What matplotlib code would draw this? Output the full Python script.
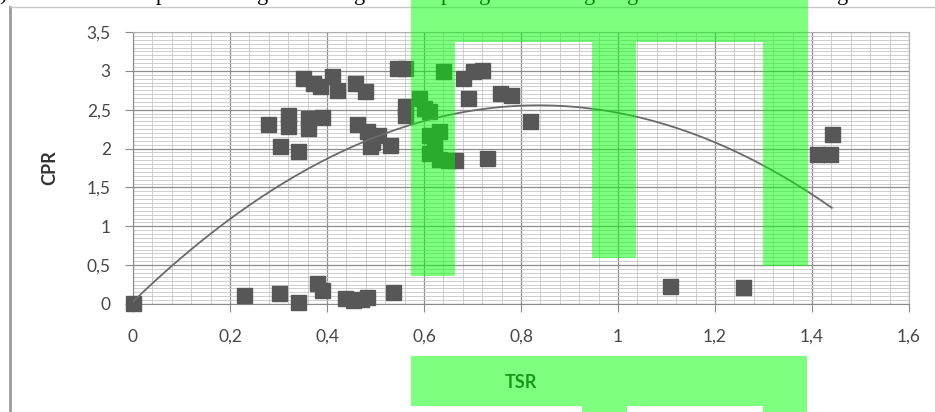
import numpy as np
import matplotlib
matplotlib.use("Agg")
import matplotlib.pyplot as plt
import matplotlib.transforms as mtransforms
from matplotlib.patches import Polygon
from matplotlib.lines import Line2D
from matplotlib.ticker import MultipleLocator, FixedLocator, FixedFormatter

# measured points: tip speed ratio vs power coefficient
tsr = [0.0, 0.229, 0.30, 0.34, 0.38, 0.39, 0.437, 0.454, 0.47, 0.482, 0.536,
       0.279, 0.303, 0.32, 0.32, 0.34, 0.361, 0.361, 0.39,
       0.351, 0.371, 0.386, 0.41, 0.42, 0.458, 0.478,
       0.462, 0.482, 0.492, 0.489, 0.505, 0.53,
       0.544, 0.561, 0.561, 0.561,
       0.64, 0.68, 0.70, 0.72, 0.69, 0.757, 0.78, 0.819, 0.73, 0.664,
       0.59, 0.61, 0.60, 0.61, 0.63, 0.62, 0.61, 0.63, 0.65,
       1.107, 1.258, 1.441, 1.41, 1.437]
cpr = [0.01, 0.12, 0.14, 0.03, 0.27, 0.18, 0.08, 0.05, 0.07, 0.09, 0.16,
       2.31, 2.03, 2.43, 2.29, 1.97, 2.39, 2.26, 2.40,
       2.91, 2.84, 2.80, 2.93, 2.75, 2.84, 2.74,
       2.32, 2.22, 2.09, 2.03, 2.17, 2.04,
       3.04, 3.04, 2.55, 2.43,
       3.00, 2.91, 3.00, 3.01, 2.65, 2.71, 2.69, 2.35, 1.88, 1.85,
       2.65, 2.48, 2.52, 2.17, 2.22, 2.04, 1.94, 1.87, 1.85,
       0.23, 0.22, 2.19, 1.93, 1.93]

# polynomial trendline (order 2): a*x^2 + b*x + c
trend_coef = [-3.61, 6.04, 0.03]

x_ticks = [0, 0.2, 0.4, 0.6, 0.8, 1.0, 1.2, 1.4, 1.6]
x_tick_labels = ["0", "0,2", "0,4", "0,6", "0,8", "1", "1,2", "1,4", "1,6"]
y_ticks = [0, 0.5, 1.0, 1.5, 2.0, 2.5, 3.0, 3.5]
y_tick_labels = ["0", "0,5", "1", "1,5", "2", "2,5", "3", "3,5"]

# bottoms of the text line above the chart
line_chars = [")", "p", "g", "g", "p", "g", "g", "g", "g"]
line_char_x = [3, 161, 263, 360, 446, 485, 590, 633, 843]

W, H = 935, 412
fig = plt.figure(figsize=(W / 100, H / 100), dpi=100)
fig.patch.set_facecolor("white")

# pixel coordinates (origin top-left) -> figure
px = mtransforms.Affine2D().scale(1 / W, -1 / H).translate(0, 1) + fig.transFigure

ax = fig.add_axes([133 / W, (H - 304) / H, 776 / W, 272 / H])
ax.set_xlim(0, 1.6)
ax.set_ylim(0, 3.5)

ax.xaxis.set_major_locator(FixedLocator(x_ticks))
ax.xaxis.set_major_formatter(FixedFormatter(x_tick_labels))
ax.yaxis.set_major_locator(FixedLocator(y_ticks))
ax.yaxis.set_major_formatter(FixedFormatter(y_tick_labels))
ax.xaxis.set_minor_locator(MultipleLocator(0.04))
ax.yaxis.set_minor_locator(MultipleLocator(0.05))

ax.grid(which="major", color="#8e8e8e", linewidth=0.9)
ax.grid(which="minor", color="#c6c6c6", linewidth=0.6)
ax.set_axisbelow(True)

for s in ax.spines.values():
    s.set_color("#b0b0b0")
    s.set_linewidth(0.8)
ax.spines["left"].set_color("#8a8a8a")
ax.spines["bottom"].set_color("#8a8a8a")

ax.tick_params(which="major", length=6, color="#8a8a8a", labelcolor="#474747")
ax.tick_params(axis="x", which="major", pad=12, labelsize=12.5)
ax.tick_params(axis="y", which="major", pad=10, labelsize=12.5)
ax.tick_params(which="minor", length=0)
for lab in ax.get_xticklabels() + ax.get_yticklabels():
    lab.set_family("Lato")

ax.plot(tsr, cpr, linestyle="none", marker="s", markersize=10.8,
        color="#575757", markeredgecolor="#575757", zorder=3, clip_on=False)

xs = np.linspace(min(tsr), max(tsr), 300)
ax.plot(xs, np.polyval(trend_coef, xs), color="#6a6a6a", linewidth=1.3, zorder=4)

ax.set_xlabel("TSR", fontsize=13, fontweight="bold", family="Lato",
              color="#333333", va="center")
ax.xaxis.set_label_coords(0.5, (304 - 382) / 272)
ax.set_ylabel("CPR", fontsize=13, fontweight="bold", family="Lato",
              color="#333333", va="center")
ax.yaxis.set_label_coords((50 - 133) / 776, 0.5)

# outer chart frame
fig.add_artist(Line2D([10, 10], [7, H], transform=px, color="#9a9a9a", linewidth=2))
fig.add_artist(Line2D([10, W], [7, 7], transform=px, color="#c8c8c8", linewidth=1))

for ch, x in zip(line_chars, line_char_x):
    fig.text(x, 0, ch, transform=px, family="Liberation Serif", fontsize=16,
             ha="center", va="baseline", color="black")

# green highlight blocks
comb = [(411, 0), (808, 0), (808, 266), (763, 266), (763, 42), (636, 42),
        (636, 258), (592, 258), (592, 42), (455, 42), (455, 276), (411, 276)]
base = [(411, 356), (807, 356), (807, H), (763, H), (763, 406), (627, 406),
        (627, H), (582, H), (582, 406), (411, 406)]
for shape in (comb, base):
    fig.add_artist(Polygon(shape, closed=True, transform=px, facecolor=(0, 1, 0),
                           alpha=0.5, edgecolor="none", zorder=20))

fig.savefig("out.png", dpi=100)
